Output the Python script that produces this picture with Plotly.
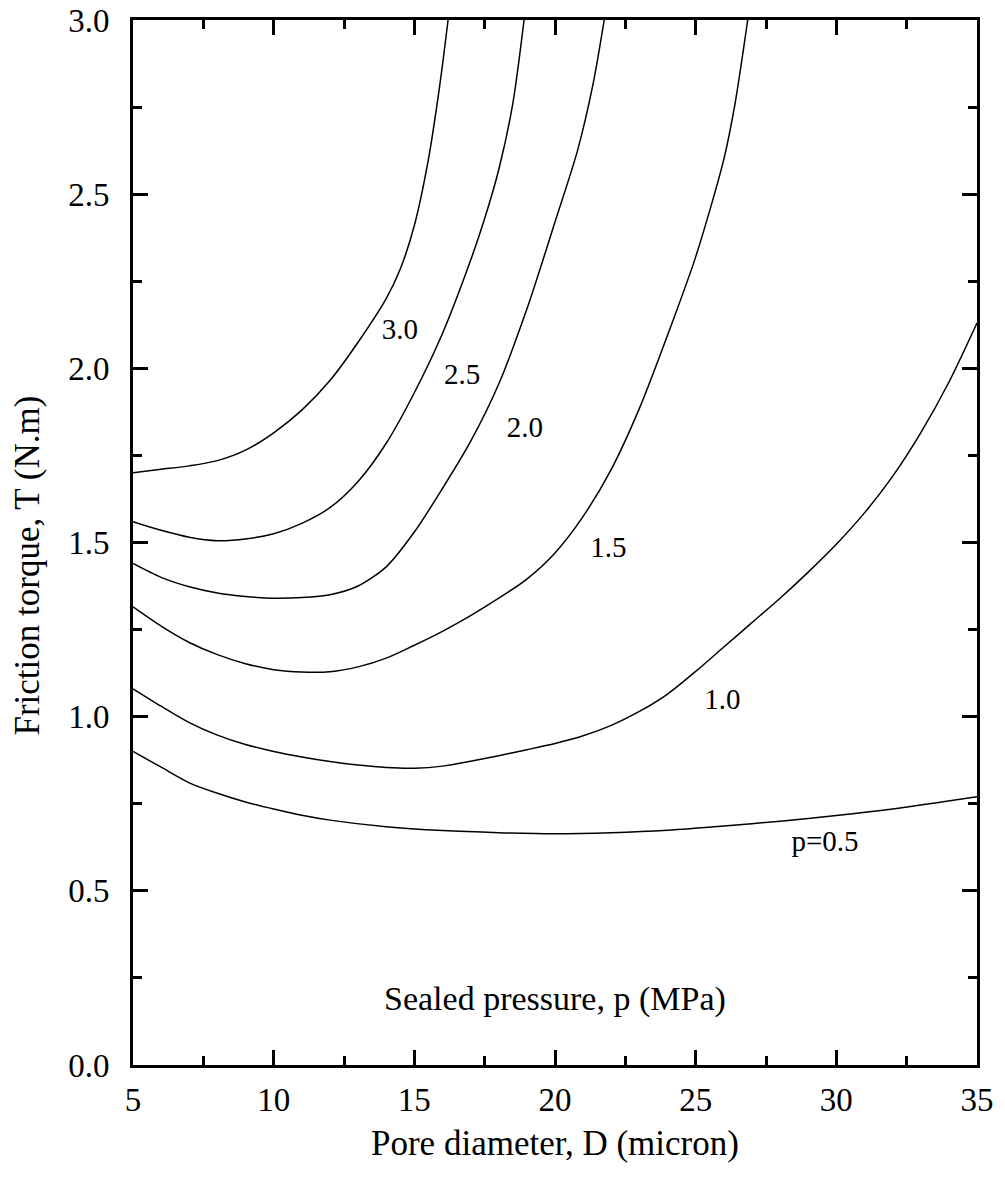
import plotly.graph_objects as go

# Friction torque T (N.m) versus pore diameter D (micron) for several sealed pressures p (MPa)
D_05 = [5, 6, 7, 8, 9, 10, 11, 12, 14, 16, 18, 20, 22, 24, 26, 28, 30, 32, 35]
T_05 = [0.90, 0.855, 0.81, 0.78, 0.755, 0.735, 0.717, 0.703, 0.684, 0.673, 0.667, 0.664,
        0.667, 0.674, 0.686, 0.70, 0.716, 0.735, 0.77]

D_10 = [5, 6, 7, 8, 9, 10, 11, 12, 13, 14, 15, 16, 17, 18, 19, 20, 21, 22, 23, 24, 25,
        26, 27, 28, 29, 30, 31, 32, 33, 34, 35]
T_10 = [1.08, 1.03, 0.983, 0.947, 0.92, 0.90, 0.884, 0.871, 0.861, 0.854, 0.852, 0.858,
        0.872, 0.888, 0.905, 0.923, 0.945, 0.975, 1.015, 1.065, 1.13, 1.20, 1.27, 1.34,
        1.415, 1.495, 1.585, 1.69, 1.815, 1.96, 2.13]

D_15 = [5, 6, 7, 8, 9, 10, 11, 12, 13, 14, 15, 16, 17, 18, 19, 20, 21, 22, 23, 24, 25, 26,
        26.4, 26.85]
T_15 = [1.315, 1.26, 1.213, 1.178, 1.152, 1.135, 1.128, 1.129, 1.143, 1.168, 1.205, 1.245,
        1.29, 1.34, 1.395, 1.47, 1.575, 1.71, 1.885, 2.095, 2.32, 2.60, 2.76, 3.0]

D_20 = [5, 6, 7, 8, 9, 10, 11, 12, 13, 14, 15, 16, 17, 18, 19, 20, 20.8, 21.35, 21.75]
T_20 = [1.44, 1.40, 1.373, 1.355, 1.345, 1.34, 1.342, 1.35, 1.375, 1.43, 1.53, 1.655, 1.79,
        1.955, 2.17, 2.42, 2.625, 2.815, 3.0]

D_25 = [5, 6, 7, 8, 9, 10, 11, 12, 13, 14, 15, 16, 17, 17.5, 18, 18.5, 18.9]
T_25 = [1.56, 1.535, 1.515, 1.505, 1.51, 1.525, 1.555, 1.60, 1.675, 1.785, 1.93, 2.10, 2.31,
        2.43, 2.57, 2.76, 3.0]

D_30 = [5, 6, 7, 8, 9, 10, 11, 12, 13, 14, 14.5, 15, 15.5, 15.9, 16.2]
T_30 = [1.70, 1.71, 1.72, 1.735, 1.765, 1.815, 1.88, 1.965, 2.075, 2.20, 2.285, 2.41, 2.60,
        2.81, 3.0]

series = [(D_05, T_05), (D_10, T_10), (D_15, T_15), (D_20, T_20), (D_25, T_25), (D_30, T_30)]

# Curve labels and where they sit
label_text = ["p=0.5", "1.0", "1.5", "2.0", "2.5", "3.0"]
label_x = [29.6, 25.95, 21.9, 18.93, 16.7, 14.49]
label_y = [0.635, 1.043, 1.479, 1.823, 1.976, 2.105]

x_ticks = [5, 10, 15, 20, 25, 30, 35]
y_ticks = [0.0, 0.5, 1.0, 1.5, 2.0, 2.5, 3.0]

SERIF = "Liberation Serif, Times New Roman, serif"

fig = go.Figure()
for xs, ys in series:
    fig.add_trace(go.Scatter(
        x=xs, y=ys, mode="lines",
        line=dict(color="black", width=1.5, shape="spline", smoothing=0.8),
        showlegend=False, hoverinfo="skip",
    ))

fig.add_trace(go.Scatter(
    x=label_x, y=label_y, mode="text", text=label_text,
    textfont=dict(family=SERIF, size=29, color="black"),
    showlegend=False, hoverinfo="skip",
))

fig.add_annotation(
    x=20, y=0.19, xref="x", yref="y", text="Sealed pressure, p (MPa)",
    showarrow=False, font=dict(family=SERIF, size=34, color="black"),
)

# Axis titles placed in paper space
fig.add_annotation(
    x=0.5, y=-0.075, xref="paper", yref="paper", yanchor="middle",
    text="Pore diameter, D (micron)", showarrow=False,
    font=dict(family=SERIF, size=35, color="black"),
)
fig.add_annotation(
    x=-0.125, y=0.4775, xref="paper", yref="paper", xanchor="center",
    text="Friction torque, T (N.m)", textangle=-90, showarrow=False,
    font=dict(family=SERIF, size=35, color="black"),
)

axis_common = dict(
    showline=True, linecolor="black", linewidth=3, mirror="ticks",
    ticks="inside", ticklen=15, tickwidth=3, tickcolor="black",
    showgrid=False, zeroline=False, automargin=False,
    tickfont=dict(family=SERIF, size=33, color="black"),
)

fig.update_xaxes(
    range=[5, 35], tickvals=x_ticks, ticktext=[str(v) for v in x_ticks],
    minor=dict(ticks="inside", ticklen=9, tickwidth=3, tickcolor="black", dtick=2.5,
               tick0=5, showgrid=False),
    ticklabelstandoff=3,
    **axis_common,
)
fig.update_yaxes(
    range=[0, 3], tickvals=y_ticks, ticktext=[f"{v:.1f}" for v in y_ticks],
    minor=dict(ticks="inside", ticklen=9, tickwidth=3, tickcolor="black", dtick=0.25,
               tick0=0, showgrid=False),
    ticklabelstandoff=14,
    **axis_common,
)

fig.update_layout(
    width=1005, height=1182,
    margin=dict(l=133, r=28, t=20, b=117),
    paper_bgcolor="white", plot_bgcolor="white",
)

fig.write_html("out.html")
